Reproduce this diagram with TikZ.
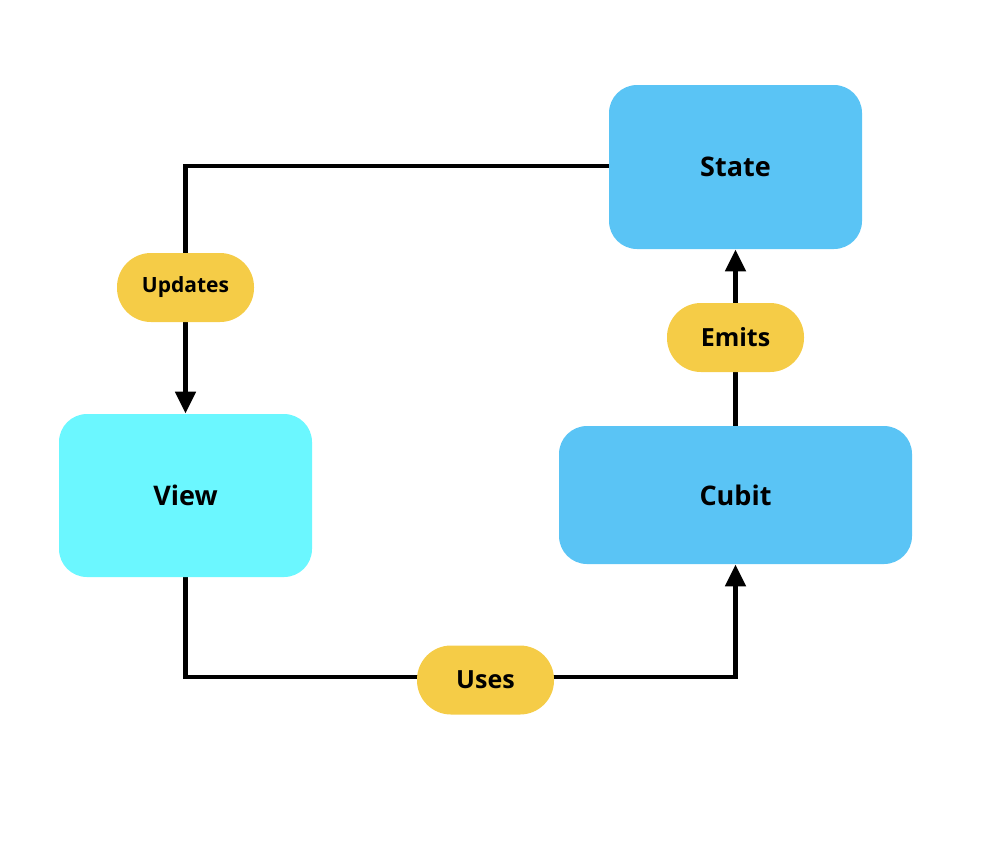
\documentclass[tikz,border=0pt]{standalone}
\usepackage{fontspec}
\setmainfont{Open Sans}
\usetikzlibrary{arrows.meta,backgrounds}
\definecolor{boxblue}{HTML}{5AC4F5}
\definecolor{boxcyan}{HTML}{6BF7FF}
\definecolor{pill}{HTML}{F5CC47}
\tikzset{
  bigbox/.style={rectangle, rounded corners=14pt, inner sep=0pt, font=\bfseries\fontsize{13.5}{16}\selectfont},
  pillbox/.style={rectangle, fill=pill, rounded corners=17pt, minimum width=68.5pt, minimum height=34.5pt, inner sep=0pt, font=\bfseries\fontsize{12.5}{15}\selectfont},
  conn/.style={line width=2.4pt, -{Triangle[width=10pt,length=11pt]}}
}
\begin{document}
\begin{tikzpicture}[x=0.5pt,y=-0.5pt]
\useasboundingbox (0,0) rectangle (994,858);
\node[bigbox, fill=boxblue, minimum width=126.5pt, minimum height=82pt] (state) at (735.5,167) {State};
\node[bigbox, fill=boxblue, minimum width=176.5pt, minimum height=69pt] (cubit) at (735.5,495) {Cubit};
\node[bigbox, fill=boxcyan, minimum width=126.5pt, minimum height=81.5pt] (view) at (185.5,495.5) {View};
\node[pillbox, font=\bfseries\fontsize{10.5}{13}\selectfont] (updates) at (185.5,287.5) {Updates};
\node[pillbox] (emits) at (735.5,337.5) {Emits};
\node[pillbox] (uses) at (485.5,680) {Uses};
\coordinate (corner) at (185.5,677);
\coordinate (stateleft) at (609,166);
\begin{scope}[on background layer]
\draw[conn] (stateleft) -| (view.north);
\draw[conn] (cubit.north) -- (state.south);
\draw[conn] (view.south) -- (corner) -| (cubit.south);
\end{scope}
\end{tikzpicture}
\end{document}
